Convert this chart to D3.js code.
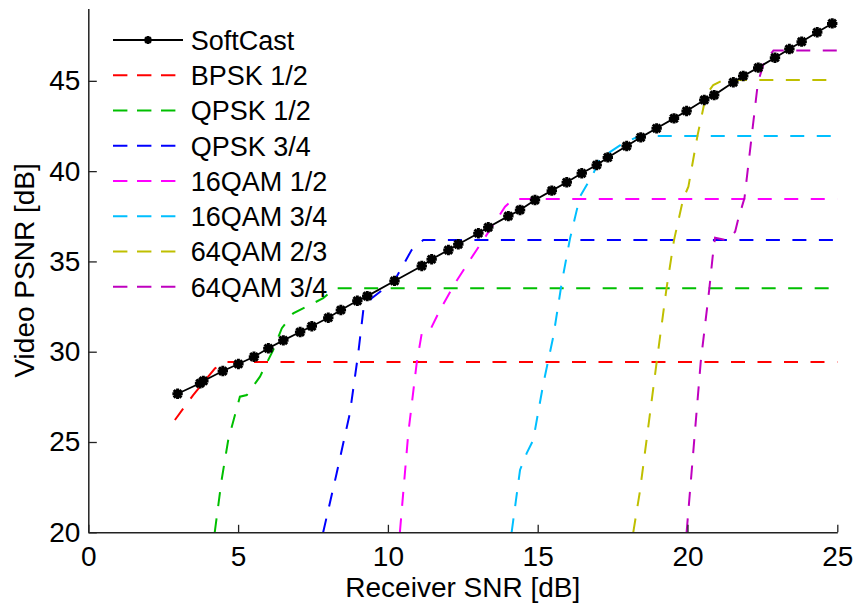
<!DOCTYPE html>
<html>
<head>
<meta charset="utf-8">
<script src="https://cdn.jsdelivr.net/npm/d3@7"></script>
<style>
  html, body { margin: 0; padding: 0; background: #fff; }
  svg { display: block; }
  text { font-family: "Liberation Sans", Arial, Helvetica, sans-serif; fill: #000; }
</style>
</head>
<body>
<svg id="chart" width="854" height="604"></svg>
<script>
// ---------------- data ----------------
const xTicks = [0, 5, 10, 15, 20, 25];
const yTicks = [20, 25, 30, 35, 40, 45];
const xLabel = "Receiver SNR [dB]";
const yLabel = "Video PSNR [dB]";

const softcastSNR  = [2.98,3.73,3.84,4.49,5.01,5.53,6.01,6.51,7.07,7.46,8.01,8.43,8.98,9.31,10.22,11.13,11.46,12.02,12.35,13.02,13.35,14.02,14.41,14.91,15.47,15.97,16.47,16.97,17.34,17.97,18.44,18.97,19.55,19.97,20.56,20.89,21.53,21.86,22.36,22.92,23.40,23.81,24.33,24.83];
const softcastPSNR = [27.67,28.25,28.38,28.93,29.32,29.72,30.19,30.63,31.09,31.41,31.88,32.31,32.82,33.08,33.92,34.75,35.12,35.63,35.95,36.56,36.89,37.51,37.85,38.40,38.92,39.38,39.88,40.34,40.76,41.39,41.87,42.37,42.92,43.33,43.94,44.21,44.92,45.27,45.73,46.28,46.76,47.17,47.69,48.18];

const bpsk12SNR  = [2.89,3.50,4.23,4.62,25];
const bpsk12PSNR = [26.22,27.60,29.08,29.43,29.43];

const qpsk12SNR  = [4.22,4.45,4.67,5.06,5.29,5.73,6.17,6.46,6.84,7.84,8.23,25];
const qpsk12PSNR = [20,22.9,25.11,27.51,27.6,28.62,30.09,31.30,32.13,32.96,33.51,33.51];

const qpsk34SNR  = [7.84,8.29,8.73,9.01,9.18,9.46,9.74,10.20,10.79,11.18,25];
const qpsk34PSNR = [20,23.27,26.59,29.91,32.31,32.97,33.32,33.88,35.63,36.18,36.18];

const qam16_12SNR  = [10.40,10.68,10.96,11.13,11.41,11.74,12.24,12.74,13.18,13.91,14.19,25];
const qam16_12PSNR = [20,25.48,29.36,31.02,31.2,32.31,33.79,35.08,36.18,38.03,38.46,38.46];

const qam16_34SNR  = [14.13,14.41,14.63,14.85,15.19,15.52,15.80,16.08,16.41,16.86,17.08,17.86,18.4,25];
const qam16_34PSNR = [20,23.45,24.37,25.11,28.25,30.83,33.79,36.28,38.58,39.88,40.7,41.55,41.94,41.94];

const qam64_23SNR  = [18.19,18.41,18.97,19.30,19.55,19.86,20.03,20.33,20.62,20.86,21.2,25];
const qam64_23PSNR = [20,22.25,29.41,33.51,36.18,38.49,39.14,41.94,44.21,44.77,45.05,45.05];

const qam64_34SNR  = [19.97,20.44,20.73,20.84,20.92,21.31,21.59,21.70,21.90,22.14,22.35,22.55,22.87,25];
const qam64_34PSNR = [20,29.41,33.51,35.26,36.31,36.18,36.64,37.39,38.49,41.90,44.9,46.0,46.68,46.68];

const seriesNames  = ["SoftCast","BPSK 1/2","QPSK 1/2","QPSK 3/4","16QAM 1/2","16QAM 3/4","64QAM 2/3","64QAM 3/4"];
const seriesColors = ["#000000","#ff0000","#00bf00","#0000ff","#ff00ff","#00bfff","#bfbf00","#bf00bf"];
const seriesX = [softcastSNR,bpsk12SNR,qpsk12SNR,qpsk34SNR,qam16_12SNR,qam16_34SNR,qam64_23SNR,qam64_34SNR];
const seriesY = [softcastPSNR,bpsk12PSNR,qpsk12PSNR,qpsk34PSNR,qam16_12PSNR,qam16_34PSNR,qam64_23PSNR,qam64_34PSNR];

// ---------------- layout ----------------
const W = 854, H = 604;
const margin = { top: 8.6, right: 16.7, bottom: 71.7, left: 88.3 };
const svg = d3.select("#chart");

const x = d3.scaleLinear().domain([0, 25]).range([margin.left, W - margin.right]);
const y = d3.scaleLinear().domain([20, 49]).range([H - margin.bottom, margin.top]);

svg.append("defs").append("clipPath").attr("id", "plotclip")
  .append("rect")
  .attr("x", x(0)).attr("y", y(49) - 2)
  .attr("width", x(25) - x(0) + 8).attr("height", y(20) - y(49) + 2);

const plot = svg.append("g").attr("clip-path", "url(#plotclip)");

const line = d3.line().x(d => x(d[0])).y(d => y(d[1]));

for (let i = 1; i < seriesNames.length; i++) {
  const pts = seriesX[i].map((v, k) => [v, seriesY[i][k]]);
  plot.append("path")
    .datum(pts)
    .attr("d", line)
    .attr("fill", "none")
    .attr("stroke", seriesColors[i])
    .attr("stroke-width", 2)
    .attr("stroke-dasharray", "14,12.5");
}

const scPts = softcastSNR.map((v, k) => [v, softcastPSNR[k]]);
plot.append("path")
  .datum(scPts)
  .attr("d", line)
  .attr("fill", "none")
  .attr("stroke", "#000")
  .attr("stroke-width", 1.8);

const starPath = "M-5.2,0H5.2M0,-5.2V5.2M-3.8,-3.8L3.8,3.8M-3.8,3.8L3.8,-3.8";
plot.selectAll("path.mk")
  .data(scPts)
  .enter().append("path")
  .attr("class", "mk")
  .attr("transform", d => `translate(${x(d[0])},${y(d[1])})`)
  .attr("d", starPath)
  .attr("stroke", "#000")
  .attr("stroke-width", 3)
  .attr("fill", "none");

// ---------------- axes ----------------
const xAxis = d3.axisBottom(x).tickValues(xTicks).tickSizeInner(-7.5).tickSizeOuter(0).tickPadding(13.5);
const yAxis = d3.axisLeft(y).tickValues(yTicks).tickSizeInner(-8.5).tickSizeOuter(0).tickPadding(8);

const gx = svg.append("g").attr("transform", `translate(0,${y(20)})`).call(xAxis);
const gy = svg.append("g").attr("transform", `translate(${x(0)},0)`).call(yAxis);

[gx, gy].forEach(g => {
  g.select(".domain").attr("stroke", "#222").attr("stroke-width", 1.5);
  g.selectAll(".tick line").attr("stroke", "#222").attr("stroke-width", 1.3);
  g.selectAll(".tick text").attr("font-size", 28).attr("fill", "#000")
    .attr("font-family", "'Liberation Sans', Arial, sans-serif");
});

svg.append("text")
  .attr("x", (x(0) + x(25)) / 2)
  .attr("y", 596.7)
  .attr("text-anchor", "middle")
  .attr("font-size", 28)
  .text(xLabel);

svg.append("text")
  .attr("transform", `translate(33.5,${(y(20) + y(49)) / 2}) rotate(-90)`)
  .attr("text-anchor", "middle")
  .attr("font-size", 28)
  .text(yLabel);

// ---------------- legend ----------------
const legend = svg.append("g");
seriesNames.forEach((name, i) => {
  const ry = 40 + 35.24 * i;
  const row = legend.append("g");
  if (i === 0) {
    row.append("line")
      .attr("x1", 113).attr("x2", 183).attr("y1", ry).attr("y2", ry)
      .attr("stroke", "#000").attr("stroke-width", 1.8);
    row.append("path")
      .attr("transform", `translate(148,${ry})`)
      .attr("d", "M-4,0H4M0,-4V4M-2.8,-2.8L2.8,2.8M-2.8,2.8L2.8,-2.8")
      .attr("stroke", "#000").attr("stroke-width", 2.4).attr("fill", "none");
  } else {
    row.append("line")
      .attr("x1", 113).attr("x2", 181).attr("y1", ry).attr("y2", ry)
      .attr("stroke", seriesColors[i]).attr("stroke-width", 2)
      .attr("stroke-dasharray", "14.4,9.6");
  }
  row.append("text")
    .attr("x", 190.7)
    .attr("y", ry + 10)
    .attr("font-size", 27)
    .text(name);
});
</script>
</body>
</html>
